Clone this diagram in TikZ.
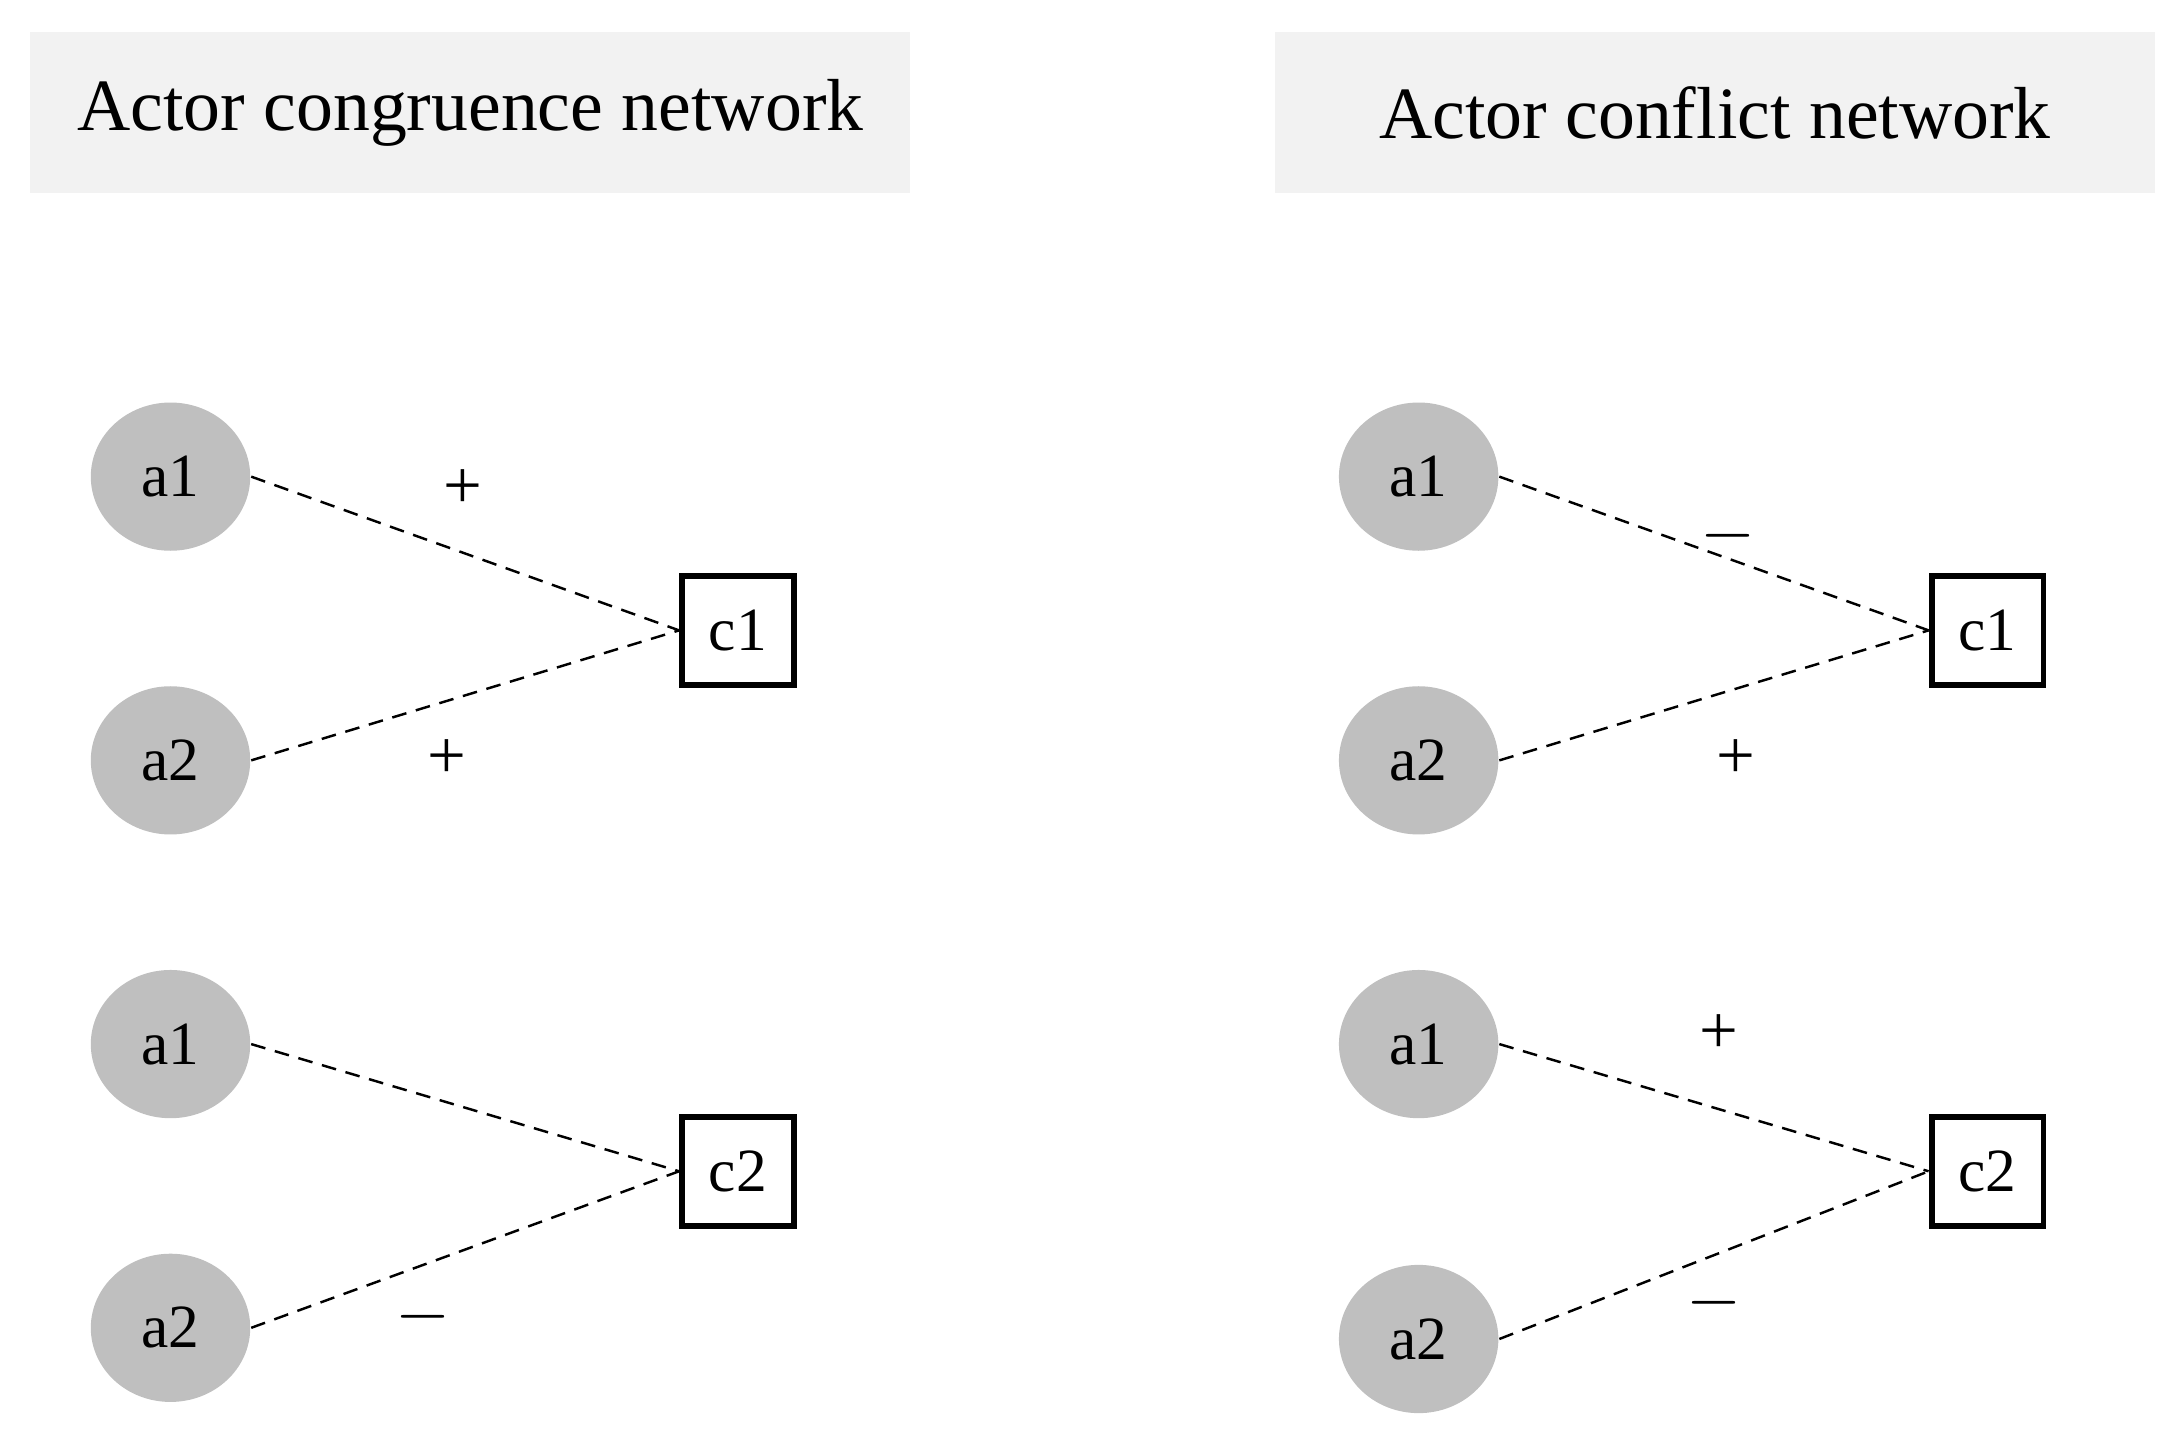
\documentclass[tikz,border=0pt]{standalone}
\usepackage{fontspec}
\setmainfont{Liberation Serif}
\usetikzlibrary{shapes.geometric}
\begin{document}
\begin{tikzpicture}[x=0.01cm,y=-0.01cm,
  title/.style={fill=black!5,draw=none,minimum width=6.29cm,minimum height=1.15cm,font=\fontsize{15}{18}\selectfont},
  actor/.style={ellipse,fill=black!25,minimum width=1.14cm,minimum height=1.06cm,inner sep=0pt,font=\fontsize{12.5}{15}\selectfont},
  conc/.style={draw,line width=1.2pt,minimum width=0.8cm,minimum height=0.78cm,inner sep=0pt,font=\fontsize{12.5}{15}\selectfont},
  tie/.style={densely dashed,line width=0.5pt},
  sgn/.style={font=\fontsize{14}{16}\selectfont}]
\useasboundingbox (0,0) rectangle (1559,1023);
\node[title] (t1) at (336.5,80.5) {Actor congruence network};
\node[title] (t2) at (1227,80.5) {Actor conflict network};
% left
\node[actor] (la1) at (122,341) {a1};
\node[actor] (la2) at (122,544) {a2};
\node[actor] (la3) at (122,747) {a1};
\node[actor] (la4) at (122,950) {a2};
\node[conc] (lc1) at (528,451) {c1};
\node[conc] (lc2) at (528,838) {c2};
\draw[tie] (la1.east) -- (lc1.west);
\draw[tie] (la2.east) -- (lc1.west);
\draw[tie] (la3.east) -- (lc2.west);
\draw[tie] (la4.east) -- (lc2.west);
\node[sgn] (s1) at (331,350) {+};
\node[sgn] (s2) at (320,543) {+};
\node[sgn] (s3) at (303,942) {$-$};
% right
\node[actor] (ra1) at (1015,341) {a1};
\node[actor] (ra2) at (1015,544) {a2};
\node[actor] (ra3) at (1015,747) {a1};
\node[actor] (ra4) at (1015,958) {a2};
\node[conc] (rc1) at (1422,451) {c1};
\node[conc] (rc2) at (1422,838) {c2};
\draw[tie] (ra1.east) -- (rc1.west);
\draw[tie] (ra2.east) -- (rc1.west);
\draw[tie] (ra3.east) -- (rc2.west);
\draw[tie] (ra4.east) -- (rc2.west);
\node[sgn] (s4) at (1236,383) {$-$};
\node[sgn] (s5) at (1242,543) {+};
\node[sgn] (s6) at (1230,740) {+};
\node[sgn] (s7) at (1226,932) {$-$};
\end{tikzpicture}
\end{document}
